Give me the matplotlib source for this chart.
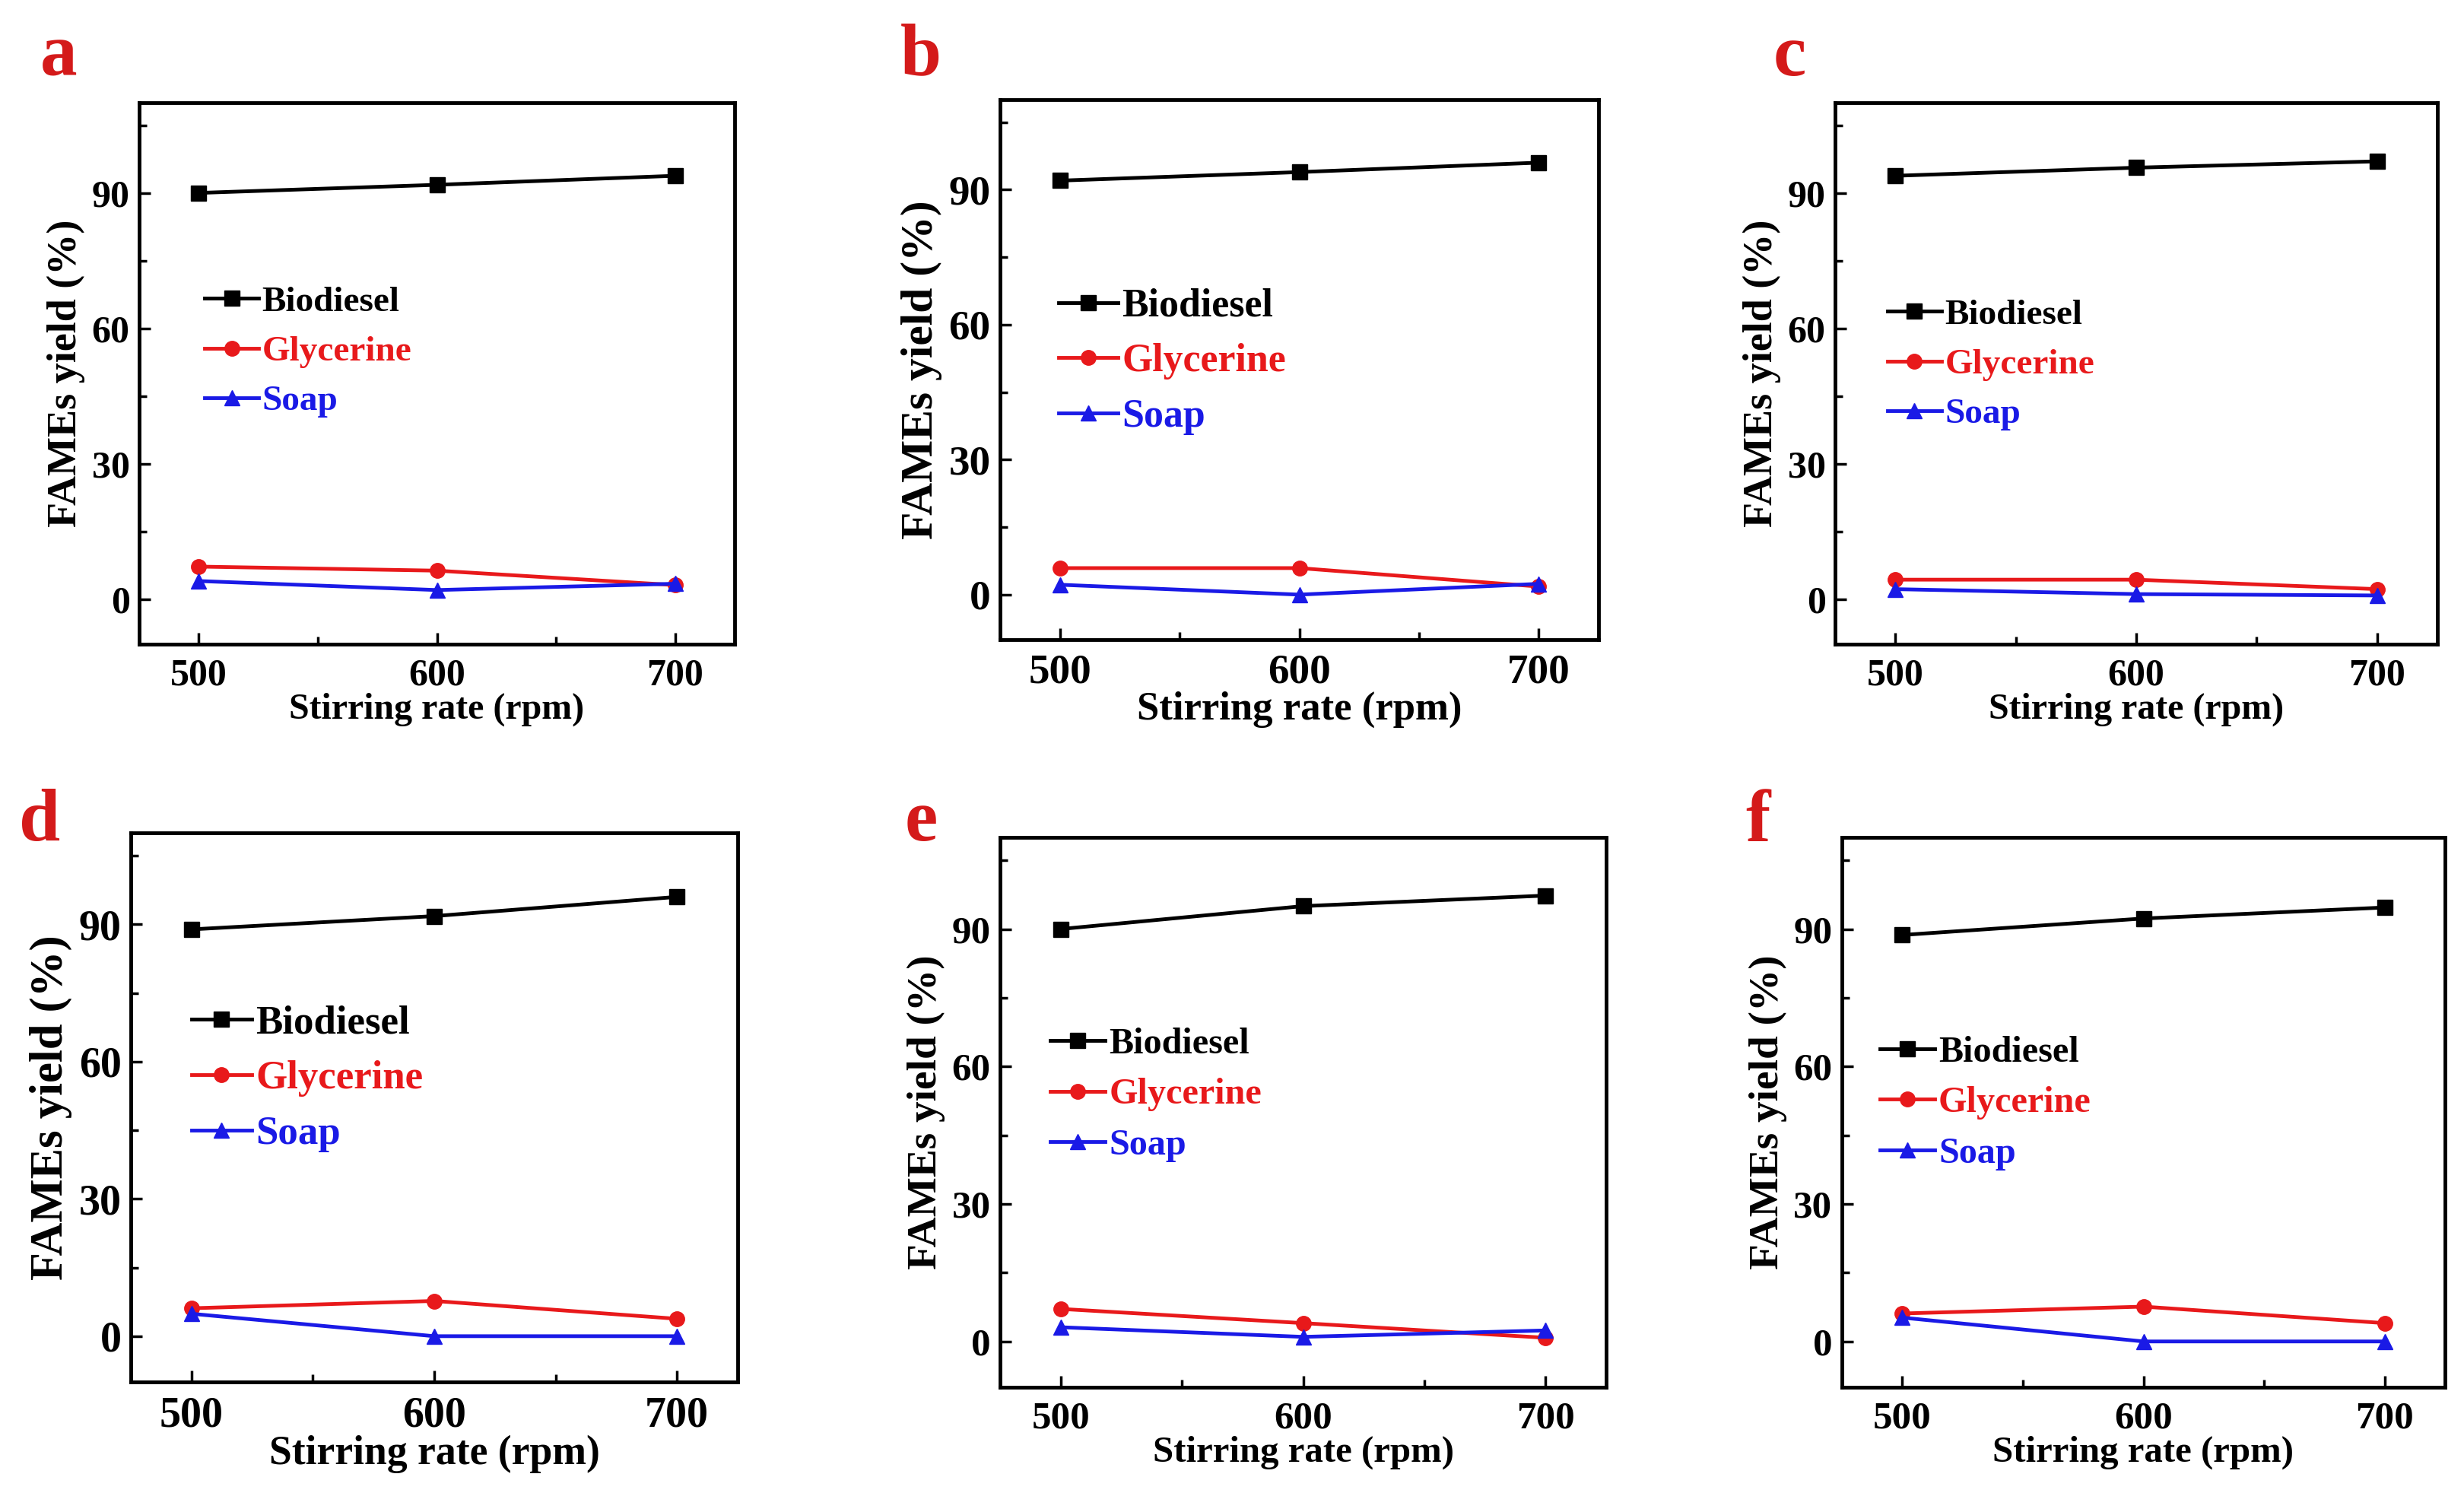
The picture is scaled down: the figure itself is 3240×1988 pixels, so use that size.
import matplotlib
matplotlib.use("Agg")
from matplotlib import pyplot as plt
from matplotlib.ticker import MultipleLocator

plt.rcParams['font.family'] = ['Liberation Serif', 'DejaVu Serif']
plt.rcParams['font.weight'] = 'bold'

rpm = [500, 600, 700]
panel_letters = ['a', 'b', 'c', 'd', 'e', 'f']

biodiesel_a = [90, 91.8, 93.8]
glycerine_a = [7.2, 6.3, 3.1]
soap_a = [4.0, 2.0, 3.4]

biodiesel_b = [92, 93.9, 96]
glycerine_b = [5.9, 5.9, 1.8]
soap_b = [2.2, 0, 2.4]

biodiesel_c = [93.8, 95.6, 97]
glycerine_c = [4.3, 4.3, 2.2]
soap_c = [2.2, 1.1, 0.8]

biodiesel_d = [88.9, 91.8, 96]
glycerine_d = [6.1, 7.7, 3.8]
soap_d = [4.9, 0, 0]

biodiesel_e = [90, 95, 97.3]
glycerine_e = [7.1, 4.0, 0.8]
soap_e = [3.1, 1.0, 2.4]

biodiesel_f = [88.7, 92.3, 94.7]
glycerine_f = [6.1, 7.6, 4.0]
soap_f = [5.2, 0, 0]

series_names = ['Biodiesel', 'Glycerine', 'Soap']


def main():
    W, H = 3240, 1988
    fig = plt.figure(figsize=(W / 100, H / 100), dpi=100)

    # axes boxes in pixels: left, top, right, bottom
    boxes = [(183, 135, 966, 847), (1315, 131, 2102, 841), (2413, 135, 3205, 847),
             (172, 1095, 970, 1817), (1315, 1101, 2112, 1824), (2422, 1101, 3215, 1824)]
    letter_pos = [(77, 75), (1211, 75), (2353, 75), (52, 1082), (1211, 1082), (2312, 1082)]
    legend_pos = [(0.11, 0.54), (0.098, 0.515), (0.087, 0.516),
                  (0.10, 0.552), (0.083, 0.532), (0.063, 0.517)]
    scale = [1.0, 1.1, 1.0, 1.12, 1.02, 1.02]

    data = [(biodiesel_a, glycerine_a, soap_a), (biodiesel_b, glycerine_b, soap_b),
            (biodiesel_c, glycerine_c, soap_c), (biodiesel_d, glycerine_d, soap_d),
            (biodiesel_e, glycerine_e, soap_e), (biodiesel_f, glycerine_f, soap_f)]

    colors = ['black', '#e8191b', '#1a1ae6']
    markers = ['s', 'o', '^']

    for i, (bio, gly, soap) in enumerate(data):
        l, t, r, b = boxes[i]
        ax = fig.add_axes([l / W, 1 - b / H, (r - l) / W, (b - t) / H])
        s = scale[i]
        for vals, name, c, m in zip((bio, gly, soap), series_names, colors, markers):
            ax.plot(rpm, vals, color=c, marker=m, markersize=14, lw=3.5, label=name)

        ax.set_xlim(475, 725)
        ax.set_ylim(-10, 110)
        ax.xaxis.set_major_locator(MultipleLocator(100))
        ax.xaxis.set_minor_locator(MultipleLocator(50))
        ax.yaxis.set_major_locator(MultipleLocator(30))
        ax.yaxis.set_minor_locator(MultipleLocator(15))
        ax.tick_params(which='both', direction='in', top=False, right=False, width=2.5)
        ax.tick_params(which='major', length=11)
        ax.tick_params(which='minor', length=7)
        ax.tick_params(axis='x', labelsize=36 * s, pad=13)
        ax.tick_params(axis='y', labelsize=36 * s, pad=9)
        for sp in ax.spines.values():
            sp.set_linewidth(3.5)

        ax.set_xlabel('Stirring rate (rpm)', fontsize=34.5 * s, fontweight='bold', labelpad=0)
        ax.set_ylabel('FAMEs yield (%)', fontsize=39 * s, fontweight='bold', labelpad=6)

        ax.legend(loc='center left', bbox_to_anchor=legend_pos[i], frameon=False,
                  handlelength=1.5, handletextpad=0.1,
                  labelspacing=0.47, borderpad=0, borderaxespad=0, labelcolor='linecolor',
                  prop={'weight': 'bold', 'size': 34 * s})

        fig.text(letter_pos[i][0] / W, 1 - letter_pos[i][1] / H, panel_letters[i],
                 color='#d41a1a', fontsize=70, fontweight='bold', ha='center', va='center')

    fig.savefig('out.png', dpi=100)


if __name__ == '__main__':
    main()
